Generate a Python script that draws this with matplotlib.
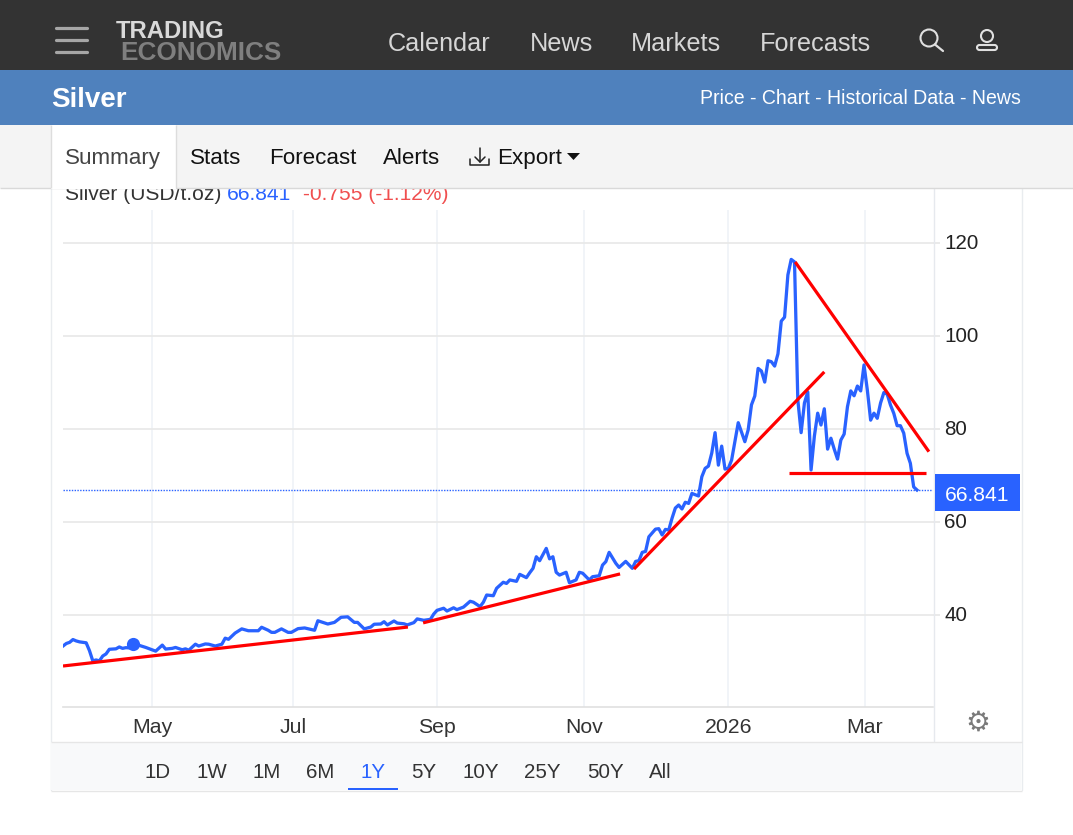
import matplotlib
matplotlib.use("Agg")
import matplotlib.pyplot as plt
from matplotlib.patches import Rectangle, Circle, Polygon, FancyBboxPatch
from matplotlib.transforms import ScaledTranslation

plt.rcParams['font.family'] = ['Liberation Sans', 'DejaVu Sans']

# ---- data: trading-session index and silver price (USD/t.oz) ----
sessions = [0,1,2,3,4,5,7,8,9,10,11,12,13,14,16,17,18,19,20,21,23,25,28,30,31,33,34,36,37,38,
            40,41,43,44,46,48,49,50,52,54,56,59,60,62,63,64,66,68,69,71,73,76,77,80,82,84,86,88,89,91,
            93,94,96,97,98,100,101,103,104,106,107,109,111,112,113,115,116,118,119,121,123,124,126,127,128,130,131,133,134,135,
            137,138,140,141,142,143,144,146,147,148,149,150,152,153,155,156,157,159,160,162,163,164,165,167,168,170,172,173,174,175,
            176,177,179,180,181,182,183,184,185,186,187,188,189,190,192,193,194,195,196,197,198,199,200,201,202,204,206,207,208,209,
            210,211,212,213,214,215,216,217,218,219,220,221,222,223,224,225,226,227,228,229,230,231,232,233,234,235,236,237,238,239,
            240,241,242,243,244,245,246,247,248,249,250,251,252,253,254,255,256,257,258]
prices = [33.2,33.75,34.0,34.6,34.3,34.1,33.9,32.2,30.0,30.2,30.0,31.05,31.5,32.5,32.6,33.0,32.7,32.85,32.8,33.65,33.35,32.9,32.1,33.4,32.55,32.7,32.9,32.4,32.6,32.3,
          33.6,33.2,33.65,33.6,33.2,33.6,34.9,34.65,36.0,36.9,36.5,36.5,37.25,36.6,36.15,36.15,36.9,36.15,36.15,36.95,37.1,36.6,38.65,37.95,38.3,39.4,39.5,38.3,38.3,36.9,
          37.3,37.9,37.95,38.45,37.75,38.6,38.15,38.0,37.75,38.25,39.05,38.75,38.95,40.1,40.9,41.35,40.75,41.45,41.05,41.6,42.85,42.65,41.7,42.65,44.2,44.05,45.65,46.95,46.7,47.45,
          47.15,48.65,47.95,49.0,49.95,52.45,51.6,54.25,52.0,52.45,49.1,48.5,49.1,46.85,47.45,49.1,48.9,47.45,48.15,48.35,50.65,51.4,53.4,51.05,50.15,51.45,49.95,51.45,51.6,53.4,
          53.6,56.75,58.4,58.5,57.15,58.35,58.2,60.75,62.95,63.6,62.75,64.2,63.95,66.1,65.55,69.7,71.5,72.0,74.8,79.2,72.2,76.3,71.35,71.5,73.3,81.35,77.25,79.8,85.2,87.1,
          93.05,92.5,90.1,94.7,94.5,93.55,96.2,103.25,104.1,113.2,116.55,116.0,86.25,79.2,85.6,88.0,71.15,78.45,83.4,80.85,84.35,75.65,78.0,75.65,73.5,77.6,78.9,84.8,88.2,87.15,
          89.25,88.2,93.8,88.4,81.9,83.4,82.3,85.6,87.85,87.5,85.15,83.35,80.7,80.7,79.1,74.75,72.6,67.5,66.841]
last_price = 66.841
highlight_session = 21
highlight_price = 33.65

# hand-drawn trend lines: (session, price) end points
trend_sessions = [(0, 104.2), (108.8, 168.3), (172.5, 230), (221.2, 261.6), (219.3, 260.8)]
trend_prices = [(28.9, 37.3), (38.2, 48.75), (49.8, 92.3), (116.0, 75.1), (70.5, 70.5)]

y_ticks = [40, 60, 80, 100, 120]
x_tick_pos = [27, 69.5, 113, 157.4, 201, 242.3]
x_tick_labels = ['May', 'Jul', 'Sep', 'Nov', '2026', 'Mar']

nav_items = ['Calendar', 'News', 'Markets', 'Forecasts']
tab_items = ['Summary', 'Stats', 'Forecast', 'Alerts', 'Export']
range_items = ['1D', '1W', '1M', '6M', '1Y', '5Y', '10Y', '25Y', '50Y', 'All']

BLUE = '#2962ff'
RED = '#ff0000'

fig = plt.figure(figsize=(10.73, 8.35), dpi=100, facecolor='white')
W, H = 1073, 835

# ---- chart ----
ax = fig.add_axes([63/W, (H-707)/H, 870/W, 497/H], zorder=3)
ax.patch.set_alpha(0)
ax.set_xlim(0, 870/3.31)
ax.set_ylim(20.06, 127.2)
for s in ['top', 'left', 'right']:
    ax.spines[s].set_visible(False)
ax.spines['bottom'].set_color('#e0e0e0')
ax.spines['bottom'].set_linewidth(1.2)
ax.yaxis.tick_right()
ax.set_yticks(y_ticks)
ax.set_xticks(x_tick_pos)
ax.set_xticklabels(x_tick_labels)
ax.tick_params(axis='y', length=5, width=1.2, color='#e6e6e6', labelsize=14.9, labelcolor='#222222', pad=3)
ax.tick_params(axis='x', length=0, labelsize=15.3, labelcolor='#333333', pad=8)
ax.grid(axis='y', color='#e8e8e8', lw=1.2, zorder=1)
ax.grid(axis='x', color='#f1f4f8', lw=1.4, zorder=1)
ax.set_axisbelow(True)
shift_up = ScaledTranslation(0, 1.5/100, fig.dpi_scale_trans)
for lab in ax.get_yticklabels():
    lab.set_transform(lab.get_transform() + shift_up)

ax.axhline(last_price, color=BLUE, lw=1.0, ls=(0, (1, 1)), zorder=2)
ax.plot(sessions, prices, color=BLUE, lw=2.35, solid_joinstyle='round', zorder=3)
ax.plot([highlight_session], [highlight_price], 'o', color=BLUE, ms=9.5, mew=0, zorder=4)
for xs, ys in zip(trend_sessions, trend_prices):
    ax.plot(xs, ys, color=RED, lw=2.3, solid_capstyle='butt', zorder=5)

# ---- page furniture, in pixel coordinates ----
ui = fig.add_axes([0, 0, 1, 1], zorder=5)
ui.patch.set_alpha(0)
ui.set_xlim(0, W)
ui.set_ylim(H, 0)
ui.axis('off')

def rect(x0, y0, x1, y1, fc, ec='none', lw=0, z=1):
    ui.add_patch(Rectangle((x0, y0), x1-x0, y1-y0, fc=fc, ec=ec, lw=lw, zorder=z))

def line(xs, ys, c, lw, z=3, cap='round'):
    ui.plot(xs, ys, color=c, lw=lw, zorder=z, solid_capstyle=cap)

def txt(x, y, s, size, c='#222222', w='normal', z=6, ha='left', **kw):
    ui.text(x, y, s, fontsize=size, color=c, fontweight=w, ha=ha, va='baseline', zorder=z, **kw)

# card outline
line([50.5, 50.5], [125, 790], '#e9ecef', 1, z=1)
line([1021.5, 1021.5], [188, 790], '#e9ecef', 1, z=1)
line([934, 934], [188, 741], '#e6e9ee', 1, z=1)
# subtitle, clipped by the tab bar that sits above it
txt(65, 200, 'Silver (USD/t.oz)', 15.1, c='#333333', z=2)
txt(227, 200, '66.841', 15.1, c=BLUE, z=2)
txt(303, 200, '-0.755 (-1.12%)', 15.1, c='#f04f4f', z=2)

# top bars
rect(0, 0, W, 70, '#333333', z=4)
rect(0, 70, W, 125, '#4f81bd', z=4)
rect(0, 125, W, 187.5, '#f4f4f4', z=4)
line([0, W], [187.7, 187.7], '#d9d9d9', 1, z=4, cap='butt')
rect(51, 125, 175.5, 189, 'white', z=4)
line([50.5, 50.5], [125, 188], '#dddddd', 1, z=4, cap='butt')
line([175.5, 175.5], [125, 188], '#dddddd', 1, z=4, cap='butt')

# hamburger
for yy in (27.5, 39.5, 51.5):
    line([56, 87], [yy, yy], '#a6a6a6', 2.3, z=5)
# logo
txt(116, 37.5, 'TRADING', 17.2, c='#d9d9d9', w='bold')
txt(120, 59.5, 'ECONOMICS', 18.8, c='#7f7f7f', w='bold')
# navigation
for x, s in zip([388, 530, 631, 760], nav_items):
    txt(x, 51, s, 18.2, c='#d6d6d6')
# search icon
ui.add_patch(Circle((929, 38), 8.5, fc='none', ec='#e0e0e0', lw=1.5, zorder=6))
line([935, 943], [44.5, 51], '#e0e0e0', 1.6, z=6)
# user icon
ui.add_patch(Circle((987, 36), 6, fc='none', ec='#e0e0e0', lw=1.5, zorder=6))
ui.add_patch(FancyBboxPatch((977, 45), 20, 5, boxstyle='round,pad=0,rounding_size=2.5', fc='none', ec='#e0e0e0', lw=1.5, zorder=6, mutation_aspect=1))

txt(51, 107, 'Silver', 20, c='white', w='bold')
txt(1021, 104, 'Price - Chart - Historical Data - News', 14.05, c='white', ha='right')

# tabs
for x, s, c in zip([65, 190, 269, 383, 497], tab_items, ['#444444'] + ['#111111']*4):
    txt(x, 164, s, 16.1, c=c)
# download icon
line([480, 480], [148, 162], '#222222', 1.1, z=6)
line([475, 480, 485], [157, 162, 157], '#222222', 1.1, z=6)
line([470, 470, 489, 489], [159, 165, 165, 159], '#222222', 1.1, z=6)
ui.add_patch(Polygon([(567, 153), (580, 153), (573.5, 160)], fc='#111111', ec='none', zorder=6))

# last-price label
rect(935, 474, 1020, 511, BLUE, z=4)
txt(977, 501, '66.841', 15.2, c='white', ha='center')

# gear
ui.text(978, 723, '\u2699', fontsize=20, color='#7a7a7a', ha='center', va='center', zorder=6, family='DejaVu Sans')

# bottom range panel
rect(51, 741.5, 1021, 790, '#f8f9fa', z=1)
line([50.5, 1021.5], [741.5, 741.5], '#e6e6e6', 1, z=2, cap='butt')
line([50.5, 1021.5], [790.5, 790.5], '#e6e6e6', 1, z=2, cap='butt')
range_x = [144, 196, 253, 306, 361, 411, 463, 524, 587, 649]
for x, s in zip(range_x, range_items):
    txt(x, 778, s, 14.8, c=BLUE if s == '1Y' else '#333333')
rect(348, 788, 398, 790, BLUE, z=3)

fig.savefig('out.png', dpi=100)
